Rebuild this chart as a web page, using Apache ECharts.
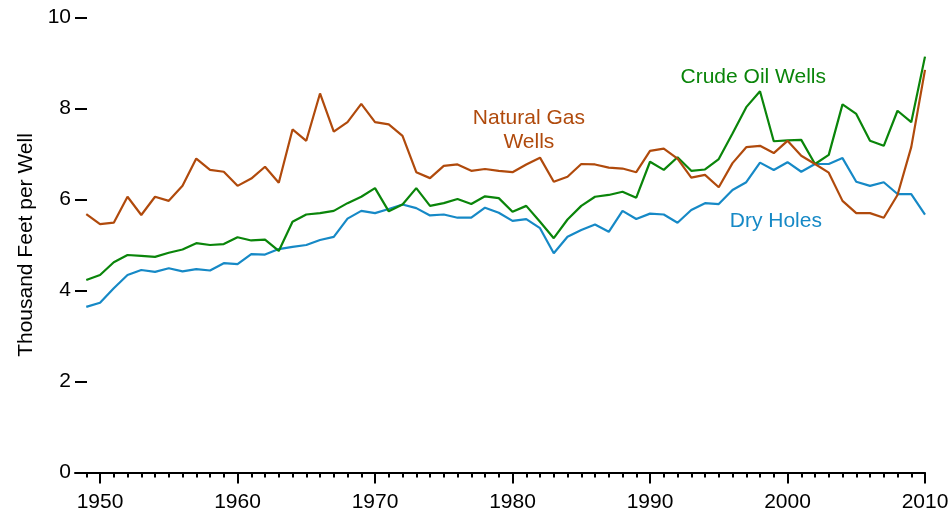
<!DOCTYPE html>
<html>
<head>
<meta charset="utf-8">
<script src="https://cdn.jsdelivr.net/npm/echarts@6/dist/echarts.min.js"></script>
<style>
  html, body { margin: 0; padding: 0; background: #ffffff; }
  #chart { width: 951px; height: 511px; }
</style>
</head>
<body>
<div id="chart"></div>
<script>
// Years 1949..2010
var years = [];
for (var yr = 1949; yr <= 2010; yr++) years.push(yr);

var decadeTicks = [1950, 1960, 1970, 1980, 1990, 2000, 2010];
var yTicks = [0, 2, 4, 6, 8, 10];

var naturalGas = [
  5.68, 5.46, 5.49, 6.06, 5.66, 6.06, 5.97, 6.30, 6.90, 6.65,
  6.61, 6.30, 6.46, 6.72, 6.37, 7.54, 7.29, 8.33, 7.49, 7.70,
  8.10, 7.70, 7.65, 7.40, 6.60, 6.47, 6.74, 6.77, 6.63, 6.67,
  6.63, 6.60, 6.77, 6.92, 6.39, 6.50, 6.78, 6.77, 6.70, 6.68,
  6.60, 7.07, 7.12, 6.90, 6.48, 6.54, 6.27, 6.80, 7.15, 7.18,
  7.02, 7.29, 6.96, 6.78, 6.59, 5.97, 5.70, 5.70, 5.60, 6.10,
  7.15, 8.85
];

var crudeOil = [
  4.23, 4.34, 4.62, 4.78, 4.76, 4.74, 4.83, 4.90, 5.04, 5.00,
  5.02, 5.17, 5.10, 5.12, 4.87, 5.51, 5.67, 5.70, 5.75, 5.92,
  6.06, 6.25, 5.74, 5.89, 6.25, 5.86, 5.92, 6.01, 5.90, 6.07,
  6.03, 5.73, 5.86, 5.51, 5.15, 5.56, 5.86, 6.06, 6.10, 6.17,
  6.04, 6.83, 6.65, 6.93, 6.63, 6.66, 6.89, 7.45, 8.03, 8.38,
  7.28, 7.30, 7.31, 6.78, 6.98, 8.09, 7.88, 7.29, 7.18, 7.95,
  7.70, 9.14
];

var dryHoles = [
  3.64, 3.73, 4.05, 4.34, 4.45, 4.41, 4.49, 4.42, 4.47, 4.44,
  4.60, 4.58, 4.80, 4.79, 4.91, 4.96, 5.00, 5.11, 5.18, 5.58,
  5.75, 5.70, 5.79, 5.89, 5.81, 5.65, 5.67, 5.60, 5.60, 5.82,
  5.71, 5.53, 5.57, 5.37, 4.82, 5.18, 5.33, 5.45, 5.29, 5.75,
  5.57, 5.69, 5.67, 5.49, 5.77, 5.92, 5.90, 6.21, 6.38, 6.81,
  6.65, 6.82, 6.61, 6.78, 6.78, 6.91, 6.39, 6.30, 6.38, 6.12,
  6.12, 5.67
];

var seriesNames = ['Natural Gas\nWells', 'Crude Oil Wells', 'Dry Holes'];
var yAxisTitle = 'Thousand Feet per Well';

function pairs(vals) {
  return years.map(function (y, i) { return [y, vals[i]]; });
}

var colGas = '#b04a0c';
var colOil = '#0a850a';
var colDry = '#1689c6';
var fontFam = '"Liberation Sans", Arial, Helvetica, sans-serif';

var chart = echarts.init(document.getElementById('chart'), null, { renderer: 'canvas' });

function labelPoint(text, x, y, color) {
  return {
    silent: true,
    symbol: 'circle',
    symbolSize: 0,
    animation: false,
    label: {
      show: true,
      position: 'inside',
      formatter: text,
      color: color,
      fontSize: 21,
      fontFamily: fontFam,
      lineHeight: 24,
      align: 'center',
      verticalAlign: 'middle'
    },
    data: [{ coord: [x, y] }]
  };
}

var option = {
  animation: false,
  backgroundColor: '#ffffff',
  grid: { left: 75, right: 26, top: 17.5, bottom: 38.5, containLabel: false, outerBoundsMode: 'none' },
  xAxis: [
    {
      type: 'value',
      min: 1948.18,
      max: 2010,
      position: 'bottom',
      axisLine: { show: true, onZero: false, lineStyle: { color: '#000', width: 2 } },
      axisTick: { show: true, customValues: years, length: 5, lineStyle: { color: '#000', width: 2 } },
      axisLabel: { show: false },
      splitLine: { show: false }
    },
    {
      type: 'value',
      min: 1948.18,
      max: 2010,
      position: 'bottom',
      axisLine: { show: false, onZero: false },
      axisTick: { show: true, customValues: decadeTicks, length: 11, lineStyle: { color: '#000', width: 2 } },
      axisLabel: {
        show: true, customValues: decadeTicks, margin: 19,
        color: '#000', fontSize: 21, fontFamily: fontFam,
        formatter: function (v) { return String(v); }
      },
      splitLine: { show: false }
    }
  ],
  yAxis: {
    type: 'value',
    min: 0,
    max: 10,
    interval: 2,
    name: yAxisTitle,
    nameLocation: 'middle',
    nameGap: 38,
    nameTextStyle: { color: '#000', fontSize: 21, fontFamily: fontFam },
    axisLine: { show: false },
    axisTick: { show: true, inside: true, length: 12, lineStyle: { color: '#000', width: 2 } },
    axisLabel: { show: true, margin: 4, color: '#000', fontSize: 21, fontFamily: fontFam },
    splitLine: { show: false }
  },
  series: [
    {
      name: seriesNames[2],
      type: 'line',
      xAxisIndex: 0,
      data: pairs(dryHoles),
      showSymbol: false,
      symbol: 'none',
      lineStyle: { color: colDry, width: 2.2 },
      itemStyle: { color: colDry },
      markPoint: labelPoint('Dry Holes', 1999.15, 5.53, colDry)
    },
    {
      name: seriesNames[1],
      type: 'line',
      xAxisIndex: 0,
      data: pairs(crudeOil),
      showSymbol: false,
      symbol: 'none',
      lineStyle: { color: colOil, width: 2.2 },
      itemStyle: { color: colOil },
      markPoint: labelPoint('Crude Oil Wells', 1997.51, 8.69, colOil)
    },
    {
      name: seriesNames[0],
      type: 'line',
      xAxisIndex: 0,
      data: pairs(naturalGas),
      showSymbol: false,
      symbol: 'none',
      lineStyle: { color: colGas, width: 2.2 },
      itemStyle: { color: colGas },
      markPoint: labelPoint('Natural Gas\nWells', 1981.19, 7.52, colGas)
    }
  ]
};

chart.setOption(option);
</script>
</body>
</html>
